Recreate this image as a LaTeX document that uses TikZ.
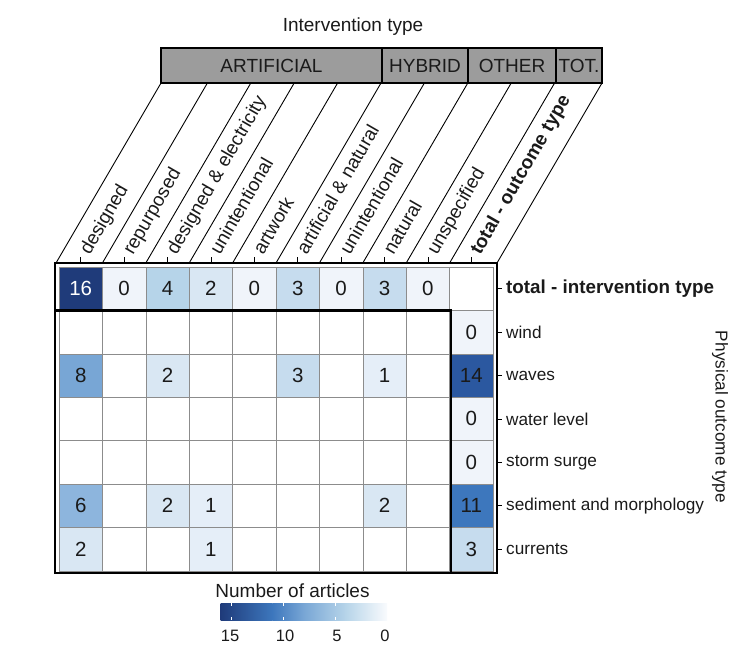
\documentclass[tikz,border=0pt]{standalone}
\usepackage{fontspec}
\setmainfont{Liberation Sans}
\definecolor{c16}{HTML}{1F3B7A}
\definecolor{c14}{HTML}{2B58A0}
\definecolor{c11}{HTML}{3D77BD}
\definecolor{c8}{HTML}{78A6D5}
\definecolor{c6}{HTML}{8DB5DD}
\definecolor{c4}{HTML}{B6D4E9}
\definecolor{c3}{HTML}{C6DCEE}
\definecolor{c2}{HTML}{D9E7F3}
\definecolor{c1}{HTML}{E5EEF8}
\definecolor{c0}{HTML}{F0F4FA}
\definecolor{hdrgrey}{HTML}{9C9C9C}
\definecolor{txt}{HTML}{1A1A1A}
\begin{document}
\begin{tikzpicture}[x=1pt,y=-1pt,
  cellnum/.style={minimum size=43.4pt, inner sep=0pt, outer sep=0pt, text=txt,
    font=\fontsize{20.5}{21}\selectfont},
  gridline/.style={draw=black!45, line width=0.6pt},
  hdr/.style={draw=black, line width=1.1pt, fill=hdrgrey, minimum height=35pt,
    inner sep=0pt, text=txt, font=\fontsize{19}{20}\selectfont},
  collab/.style={rotate=60, anchor=base west, inner sep=0pt, text=txt,
    font=\fontsize{19}{20}\selectfont},
  rowlab/.style={anchor=west, inner sep=0pt, text=txt,
    font=\fontsize{17.2}{20}\selectfont},
  titlelab/.style={inner sep=0pt, text=txt, font=\fontsize{19}{20}\selectfont},
  tickmark/.style={draw=black, line width=0.8pt},
  diag/.style={draw=black, line width=0.9pt}
]
\useasboundingbox (0,0) rectangle (744,659);

% title and header band
\node[titlelab] (title) at (353,27) {Intervention type};
\node[hdr, minimum width=221pt] (art) at (271.5,65.5) {ARTIFICIAL};
\node[hdr, minimum width=86pt] (hyb) at (425,65.5) {HYBRID};
\node[hdr, minimum width=88pt] (oth) at (512,65.5) {OTHER};
\node[hdr, minimum width=46pt] (tot) at (579,65.5) {TOT.};

% diagonal column separators
\foreach \xb in {56,102.4,145.8,189.2,232.6,276,319.4,362.8,406.2,449.6,497}
  \draw[diag] (\xb,263) -- ({\xb+105},83);

% colored cells
\foreach \r/\c/\v in {1/2/0,1/3/4,1/4/2,1/5/0,1/6/3,1/7/0,1/8/3,1/9/0,
  3/1/8,3/3/2,3/6/3,3/8/1,
  6/1/6,6/3/2,6/4/1,6/8/2,
  7/1/2,7/4/1,
  2/10/0,3/10/14,4/10/0,5/10/0,6/10/11,7/10/3}
  \node[cellnum, fill=c\v] (cell-\r-\c) at ({59+43.4*(\c-0.5)},{267+43.4*(\r-0.5)}) {\v};
\node[cellnum, fill=c16, text=white] (cell-1-1) at ({59+43.4*0.5},{267+43.4*0.5}) {16};

% grid
\foreach \i in {1,...,9}
  \draw[gridline] ({59+43.4*\i},267) -- ({59+43.4*\i},571);
\foreach \j in {1,...,6}
  \draw[gridline] (59,{267+43.4*\j}) -- (493,{267+43.4*\j});
\draw[gridline] (59,267) rectangle (493,571);

% frames
\draw[line width=2.2pt] (55,263) rectangle (497,573);
\draw[line width=2.4pt] (55,310.4) -- (451,310.4) -- (451,573);

% top ticks and column labels
\foreach \i in {1,...,10}
  \draw[tickmark] ({59+43.4*(\i-0.5)},263) -- ({59+43.4*(\i-0.5)},257);
\foreach \i/\t in {1/designed,2/repurposed,3/designed \& electricity,4/unintentional,
  5/artwork,6/artificial \& natural,7/unintentional,8/natural,9/unspecified}
  \node[collab] (col-\i) at ({59+43.4*(\i-0.5)+9},256) {\t};
\node[collab, font=\fontsize{19}{20}\selectfont\bfseries] (col-10) at ({59+43.4*9.5+9},256) {total - outcome type};

% right ticks and row labels
\foreach \j in {1,...,7}
  \draw[tickmark] (497,{267+43.4*(\j-0.5)}) -- (502,{267+43.4*(\j-0.5)});
\node[rowlab, font=\fontsize{18.8}{20}\selectfont\bfseries] (row-1) at (506,{267+43.4*0.5}) {total - intervention type};
\foreach \j/\t in {2/wind,3/waves,4/water level,5/storm surge,6/sediment and morphology,7/currents}
  \node[rowlab] (row-\j) at (506,{267+43.4*(\j-0.5)}) {\t};
\node[rowlab, anchor=center, rotate=-90] (ylab) at (720,417) {Physical outcome type};

% colorbar
\node[titlelab] (cbtitle) at (292.5,591) {Number of articles};
\shade[left color=c16, right color=c11] (220.6,603) rectangle (272.6,620);
\shade[left color=c11, right color=c8] (272.4,603) rectangle (303.8,620);
\shade[left color=c8, right color=c4] (303.6,603) rectangle (345.4,620);
\shade[left color=c4, right color=white!60!c0] (345.2,603) rectangle (387,620);
\foreach \x in {231,283,335} {
  \draw[white, line width=0.6pt] (\x,603) -- (\x,606);
  \draw[white, line width=0.6pt] (\x,617) -- (\x,620);
}
\foreach \x/\t in {230/15,285/10,337/5,385/0}
  \node[titlelab, font=\fontsize{16.5}{18}\selectfont] (cb-\t) at (\x,636) {\t};
\end{tikzpicture}
\end{document}
